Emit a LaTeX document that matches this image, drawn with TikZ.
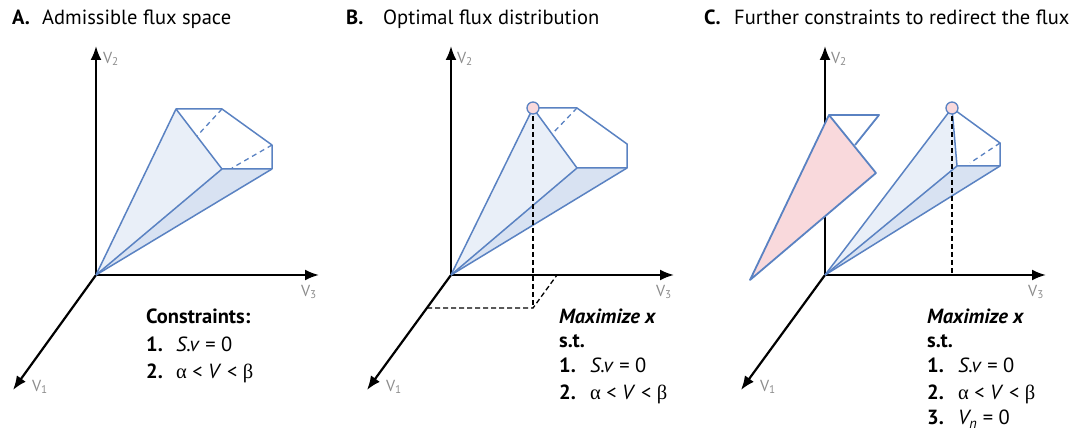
\documentclass[tikz,border=0pt]{standalone}
\usepackage{fontspec}
\setmainfont{PT Sans}
\newfontfamily\grk{Liberation Serif}
\usetikzlibrary{arrows.meta}

\definecolor{edgeblue}{HTML}{5A82C2}
\definecolor{faceblue}{HTML}{E9EFF8}
\definecolor{darkface}{HTML}{D8E2F2}
\definecolor{optpink}{HTML}{F9D9DC}
\definecolor{lblgray}{HTML}{8C8C8C}

\newcommand{\al}{{\grk α}}
\newcommand{\be}{{\grk β}}

\tikzset{
  axis/.style={line width=2.2pt,-{Latex[length=14pt,width=11pt]}},
  axlbl/.style={text=lblgray,font=\fontsize{16}{16}\selectfont,inner sep=0pt},
  titletxt/.style={anchor=base west,inner sep=0pt,font=\fontsize{20.5}{22}\selectfont},
  cons/.style={anchor=base west,inner sep=0pt,font=\fontsize{20.5}{22}\selectfont},
  edge/.style={draw=edgeblue,line width=1.5pt,line join=round},
  hidden/.style={draw=edgeblue,line width=1.3pt,dash pattern=on 5pt off 4pt},
  proj/.style={draw=black,line width=1.3pt,dash pattern=on 5pt off 3pt},
  optpt/.style={circle,fill=optpink,draw=edgeblue,line width=1.3pt,minimum size=12pt,inner sep=0pt}
}

\begin{document}
\begin{tikzpicture}[x=1pt,y=-1pt]
\useasboundingbox (0,0) rectangle (1072,430);

% titles
\node[titletxt] (Aletter) at (12,25) {\textbf{A.}};
\node[titletxt] (Atitle) at (42,25) {Admissible flux space};
\node[titletxt] (Bletter) at (346,25) {\textbf{B.}};
\node[titletxt] (Btitle) at (383,25) {Optimal flux distribution};
\node[titletxt] (Cletter) at (704,25) {\textbf{C.}};
\node[titletxt] (Ctitle) at (734,25) {Further constraints to redirect the flux};

% ---- panel A
\coordinate (Ao) at (96,275);
\coordinate (Ay) at (96,46);
\coordinate (Az) at (319,275);
\coordinate (Ax) at (13,390);
\coordinate (At1) at (176,109);
\coordinate (At2) at (222,109);
\coordinate (Ar1) at (272,145);
\coordinate (Ar2) at (272,169);
\coordinate (Am) at (222,169);
\coordinate (Ah1) at (197,136);
\coordinate (Ah2) at (232,168);

\draw[axis] (Ao) -- (Ay);
\draw[axis] (Ao) -- (Az);
\draw[axis] (Ao) -- (Ax);
\node[axlbl] (Aylbl) at (111,59) {V\textsubscript{2}};
\node[axlbl] (Azlbl) at (309,292) {V\textsubscript{3}};
\node[axlbl] (Axlbl) at (40,387) {V\textsubscript{1}};

\fill[faceblue] (Ao) -- (At1) -- (Am) -- cycle;
\fill[darkface] (Ao) -- (Am) -- (Ar2) -- cycle;
\draw[edge] (Ao) -- (At1) -- (At2) -- (Ar1) -- (Ar2) -- (Am) -- (At1);
\draw[edge] (Ao) -- (Am);
\draw[edge] (Ao) -- (Ar2);
\draw[hidden] (At2) -- (Ah1);
\draw[hidden] (Ar1) -- (Ah2);

\node[cons] (Ahead) at (146,324) {\textbf{Constraints:}};
\node[cons] (Aone) at (146,352) {\textbf{1.}};
\node[cons] (Aonef) at (176,352) {\textit{S.v} = 0};
\node[cons] (Atwo) at (146,379) {\textbf{2.}};
\node[cons] (Atwof) at (176,379) {\al\ < \textit{V} < \be};

% ---- panel B
\coordinate (Bo) at (451,275);
\coordinate (By) at (451,46);
\coordinate (Bz) at (674,275);
\coordinate (Bx) at (367,390);
\coordinate (Bt1) at (533,108);
\coordinate (Bt2) at (577,108);
\coordinate (Br1) at (627,144);
\coordinate (Br2) at (627,168);
\coordinate (Bm) at (577,168);
\coordinate (Bh1) at (552,134);
\coordinate (Bfloor) at (533,308);
\coordinate (Bfx) at (427,308);
\coordinate (Bfz) at (557,275);

\draw[axis] (Bo) -- (By);
\draw[axis] (Bo) -- (Bz);
\draw[axis] (Bo) -- (Bx);
\node[axlbl] (Bylbl) at (465,59) {V\textsubscript{2}};
\node[axlbl] (Bzlbl) at (664,292) {V\textsubscript{3}};
\node[axlbl] (Bxlbl) at (394,387) {V\textsubscript{1}};

\fill[faceblue] (Bo) -- (Bt1) -- (Bm) -- cycle;
\fill[darkface] (Bo) -- (Bm) -- (Br2) -- cycle;
\draw[edge] (Bo) -- (Bt1) -- (Bt2) -- (Br1) -- (Br2) -- (Bm) -- (Bt1);
\draw[edge] (Bo) -- (Bm);
\draw[edge] (Bo) -- (Br2);
\draw[hidden] (Bt2) -- (Bh1);
\draw[proj] (Bt1) -- (Bfloor);
\draw[proj] (Bfx) -- (Bfloor) -- (Bfz);
\node[optpt] (Bopt) at (Bt1) {};

\node[cons] (Bhead) at (559,324) {\textbf{\textit{Maximize x}}};
\node[cons] (Bst) at (559,348) {\textbf{s.t.}};
\node[cons] (Bone) at (559,373) {\textbf{1.}};
\node[cons] (Bonef) at (590,373) {\textit{S.v} = 0};
\node[cons] (Btwo) at (559,400) {\textbf{2.}};
\node[cons] (Btwof) at (590,400) {\al\ < \textit{V} < \be};

% ---- panel C
\coordinate (Co) at (825,275);
\coordinate (Cy) at (825,46);
\coordinate (Cz) at (1046,275);
\coordinate (Cx) at (741,390);
\coordinate (Ct1) at (952,108);
\coordinate (Cr1) at (1000,143);
\coordinate (Cr2) at (1000,166);
\coordinate (Cm) at (957,166);
\coordinate (Ch1) at (970,163);
\coordinate (Cfloor) at (952,275);
\coordinate (Cp1) at (750,280);
\coordinate (Cp2) at (829,115);
\coordinate (Cp3) at (876,173);
\coordinate (Cq) at (879,115);
\coordinate (Cq2) at (855,145);

\draw[axis] (Co) -- (Cy);
\draw[axis] (Co) -- (Cz);
\draw[axis] (Co) -- (Cx);
\node[axlbl] (Cylbl) at (839,59) {V\textsubscript{2}};
\node[axlbl] (Czlbl) at (1036,292) {V\textsubscript{3}};
\node[axlbl] (Cxlbl) at (768,387) {V\textsubscript{1}};

% excluded region
\filldraw[fill=optpink,edge,line width=1.8pt] (Cp1) -- (Cp2) -- (Cp3) -- cycle;
\draw[edge,line width=1.8pt] (Cp2) -- (Cq) -- (Cq2);

\fill[faceblue] (Co) -- (Ct1) -- (Cm) -- cycle;
\fill[darkface] (Co) -- (Cm) -- (Cr2) -- cycle;
\draw[edge] (Co) -- (Ct1) -- (Cr1) -- (Cr2) -- (Cm) -- (Ct1);
\draw[edge] (Co) -- (Cm);
\draw[edge] (Co) -- (Cr2);
\draw[hidden] (Cr1) -- (Ch1);
\draw[proj] (Ct1) -- (Cfloor);
\node[optpt] (Copt) at (Ct1) {};

\node[cons] (Chead) at (927,324) {\textbf{\textit{Maximize x}}};
\node[cons] (Cst) at (927,348) {\textbf{s.t.}};
\node[cons] (Cone) at (927,373) {\textbf{1.}};
\node[cons] (Conef) at (958,373) {\textit{S.v} = 0};
\node[cons] (Ctwo) at (927,400) {\textbf{2.}};
\node[cons] (Ctwof) at (958,400) {\al\ < \textit{V} < \be};
\node[cons] (Cthree) at (927,425) {\textbf{3.}};
\node[cons] (Cthreef) at (958,425) {\textit{V\textsubscript{n}} = 0};
\end{tikzpicture}
\end{document}
